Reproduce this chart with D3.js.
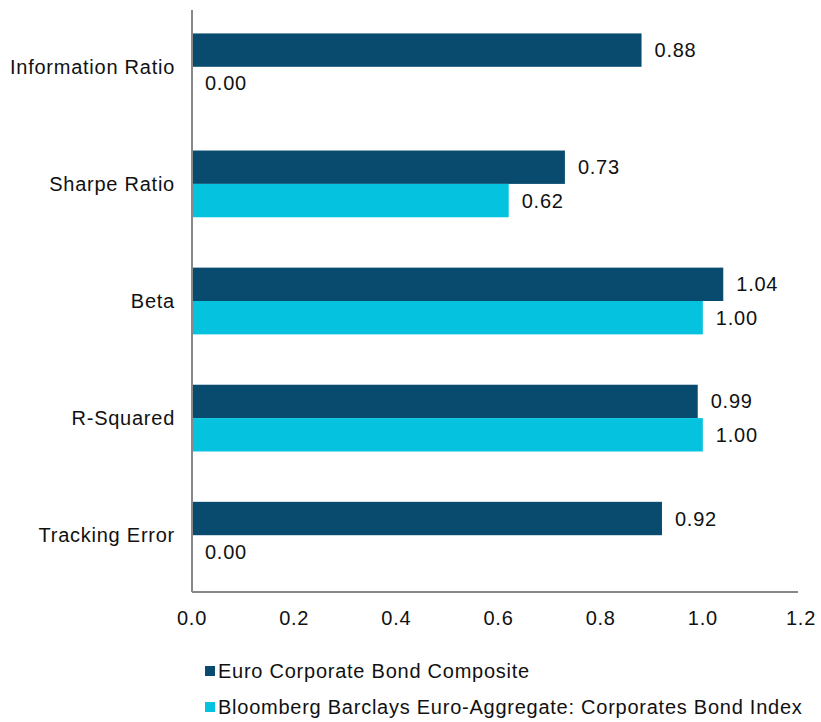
<!DOCTYPE html>
<html><head><meta charset="utf-8">
<script src="https://cdn.jsdelivr.net/npm/d3@7"></script>
<style>body{margin:0;background:#fff}svg{display:block;font-family:"Liberation Sans",Arial,sans-serif}text{letter-spacing:0.75px}</style>
</head><body><svg id="c" width="821" height="722"></svg>
<script>
const categories = ["Information Ratio","Sharpe Ratio","Beta","R-Squared","Tracking Error"];
const seriesNames = ["Euro Corporate Bond Composite","Bloomberg Barclays Euro-Aggregate: Corporates Bond Index"];
const composite = [0.88, 0.73, 1.04, 0.99, 0.92];
const benchmark = [0.00, 0.62, 1.00, 1.00, 0.00];
const xTicks = [0.0, 0.2, 0.4, 0.6, 0.8, 1.0, 1.2];
const colors = ["#084b6e", "#05c3de"];

const FS = 20;
const svg = d3.select("#c");
const plotLeft = 192, plotTop = 10, plotBottom = 592;
const x = d3.scaleLinear().domain([0, 1.2]).range([plotLeft, 805]);
const y = d3.scaleBand().domain(categories).range([plotTop, plotBottom]).paddingInner(0.43).paddingOuter(0.2);
const ySub = d3.scaleBand().domain([0,1]).range([0, y.bandwidth()]);

const data = categories.map((c,i)=>({cat:c, vals:[composite[i], benchmark[i]]}));
const g = svg.append("g");
data.forEach(d=>{
  d.vals.forEach((v,s)=>{
    const yy = y(d.cat) + ySub(s);
    if (v > 0) g.append("rect").attr("x", x(0)).attr("y", yy).attr("width", x(v)-x(0)).attr("height", ySub.bandwidth()).attr("fill", colors[s]);
    g.append("text").attr("x", x(v) + 13).attr("y", yy + ySub.bandwidth()/2).attr("dy","0.35em")
      .attr("font-size", FS).attr("fill","#111").text(v.toFixed(2));
  });
  g.append("text").attr("x", 175).attr("y", y(d.cat)+y.bandwidth()/2).attr("dy","0.35em")
    .attr("text-anchor","end").attr("font-size",FS).attr("fill","#111").text(d.cat);
});

// axes
svg.append("line").attr("x1", plotLeft).attr("x2", plotLeft).attr("y1", plotTop).attr("y2", plotBottom).attr("stroke","#888").attr("stroke-width",2);
svg.append("line").attr("x1", plotLeft).attr("x2", 798).attr("y1", plotBottom).attr("y2", plotBottom).attr("stroke","#888").attr("stroke-width",2);
xTicks.forEach(t=>{
  svg.append("text").attr("x", x(t) - (t===1.2?4:0)).attr("y", 618).attr("dy","0.35em").attr("text-anchor","middle").attr("font-size",FS).attr("fill","#111").text(t.toFixed(1));
});

// legend
seriesNames.forEach((n,i)=>{
  const ly = 671 + i*36;
  svg.append("rect").attr("x",205).attr("y",ly-5).attr("width",10).attr("height",10).attr("fill",colors[i]);
  svg.append("text").attr("x",218).attr("y",ly).attr("dy","0.35em").attr("font-size",FS).attr("fill","#111").text(n);
});
</script></body></html>
